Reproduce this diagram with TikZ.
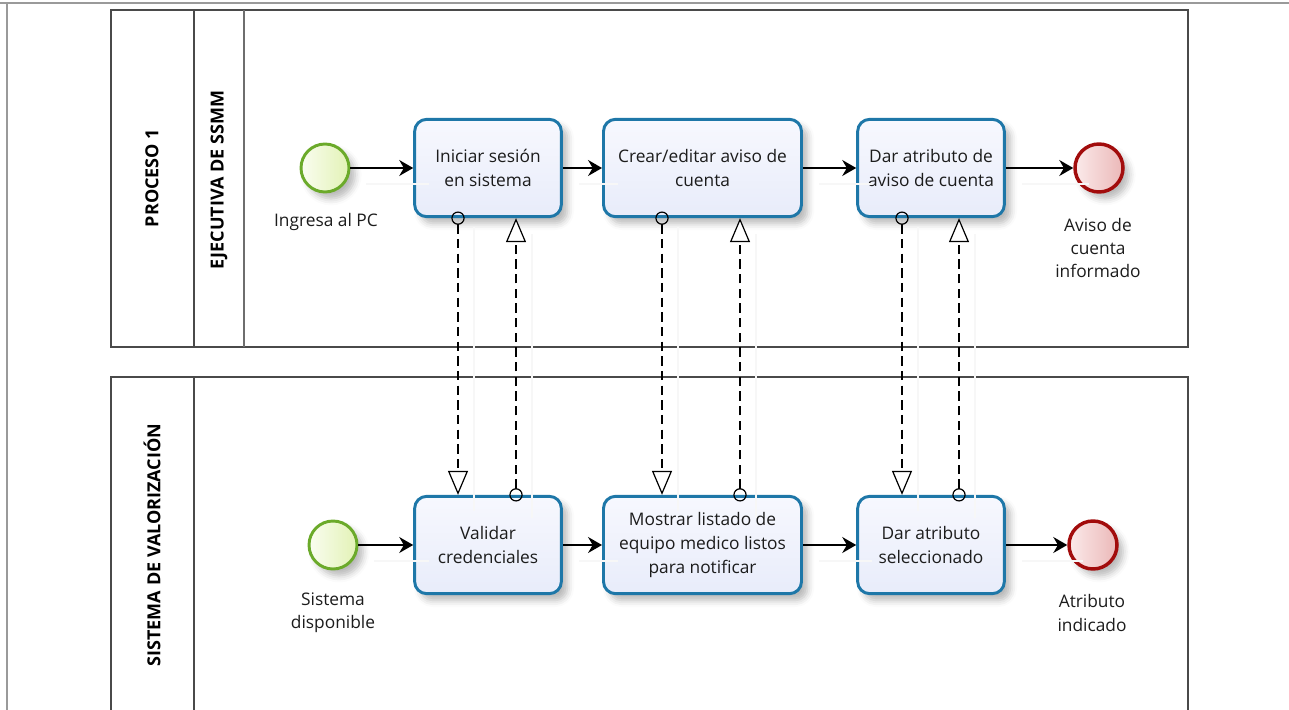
\documentclass[tikz,border=0pt]{standalone}
\usepackage{fontspec}
\setmainfont{Open Sans}
\usetikzlibrary{arrows.meta,calc,shadows.blur}

\definecolor{taskblue}{HTML}{1E77A8}
\definecolor{taskfillA}{HTML}{F7F8FE}
\definecolor{taskfillB}{HTML}{E8ECFA}
\definecolor{startline}{HTML}{6BAA2A}
\definecolor{startfillA}{HTML}{FAFDF0}
\definecolor{startfillB}{HTML}{E2F2B5}
\definecolor{endline}{HTML}{A20C0C}
\definecolor{endfillA}{HTML}{FBEAEA}
\definecolor{endfillB}{HTML}{EBB8B8}
\definecolor{poolline}{HTML}{4A4A4A}
\definecolor{framegray}{HTML}{9A9A9A}
\definecolor{txt}{HTML}{1C1C1C}

\begin{document}
\begin{tikzpicture}[x=0.75pt,y=-0.75pt,
  every node/.style={text=txt},
  pool/.style={draw=poolline, line width=1.4pt},
  lanesep/.style={draw=poolline!80, line width=1.1pt},
  poollabel/.style={font=\fontsize{13.5}{15}\selectfont\bfseries, rotate=90, text=black},
  softshadow/.style={blur shadow={shadow xshift=4.5pt, shadow yshift=-5pt, shadow blur radius=5pt, shadow opacity=28}},
  task/.style={draw=taskblue, line width=2.2pt, rounded corners=9pt,
    top color=taskfillA, bottom color=taskfillB, softshadow,
    minimum height=73pt, align=center,
    font=\fontsize{13}{18}\selectfont},
  startev/.style={circle, draw=startline, line width=2.2pt, minimum size=36pt,
    left color=startfillA, right color=startfillB, softshadow, inner sep=0pt},
  endev/.style={circle, draw=endline, line width=2.6pt, minimum size=36pt,
    left color=endfillA, right color=endfillB, softshadow, inner sep=0pt},
  evlabel/.style={align=center, font=\fontsize{13}{17.5}\selectfont},
  connshadow/.style={preaction={draw=black!3, solid, -, line width=1pt,
    transform canvas={shift={(12pt,-12pt)}}}},
  seq/.style={draw=black, line width=1.1pt, connshadow,
    -{Stealth[length=10.5pt, width=12pt, inset=3.5pt]}},
  msg/.style={draw=black, line width=1.1pt, connshadow,
    dash pattern=on 7pt off 4pt,
    {Circle[open, length=10pt, line width=0.9pt]}-{Triangle[fill=white, length=18pt, width=15pt, line width=0.9pt]},
    shorten <=-5pt}
]
\useasboundingbox (0,0) rectangle (1289,710);
\clip (0,0) rectangle (1289,710);

% page frame
\draw[framegray, line width=1.3pt] (0,3) -- (1289,3);
\draw[framegray, line width=1.5pt] (6.5,3) -- (6.5,712);

% upper pool with its lane
\draw[pool] (111,10) rectangle (1188,347);
\draw[pool] (194,10) -- (194,347);
\draw[lanesep] (244,10) -- (244,347);
\node[poollabel] (pl1) at (152,178) {PROCESO 1};
\node[poollabel] (ll1) at (219,180) {EJECUTIVA DE SSMM};

% lower pool
\draw[pool] (111,377) rectangle (1188,716);
\draw[pool] (194,377) -- (194,716);
\node[poollabel] (pl2) at (152,545) {SISTEMA DE VALORIZACIÓN};

% upper flow
\node[startev] (s1) at (325,168) {};
\node[evlabel] (s1l) at (326,222) {Ingresa al PC};
\node[task, minimum width=110pt] (t1) at (488,168) {Iniciar sesión\\en sistema};
\node[task, minimum width=148.5pt] (t2) at (702.5,168) {Crear/editar aviso de\\cuenta};
\node[task, minimum width=110pt] (t3) at (931,168) {Dar atributo de\\aviso de cuenta};
\node[endev] (e1) at (1099,168) {};
\node[evlabel] (e1l) at (1098,248) {Aviso de\\cuenta\\informado};

% lower flow
\node[startev] (s2) at (333,545) {};
\node[evlabel] (s2l) at (333,613) {Sistema\\disponible};
\node[task, minimum width=110pt] (t4) at (488,545) {Validar\\credenciales};
\node[task, minimum width=148.5pt] (t5) at (702.5,545) {Mostrar listado de\\equipo medico listos\\para notificar};
\node[task, minimum width=110pt] (t6) at (931,545) {Dar atributo\\seleccionado};
\node[endev] (e2) at (1093,545) {};
\node[evlabel] (e2l) at (1092,613) {Atributo\\indicado};

% sequence flows
\draw[seq] (s1) -- (t1);
\draw[seq] (t1) -- (t2);
\draw[seq] (t2) -- (t3);
\draw[seq] (t3) -- (e1);
\draw[seq] (s2) -- (t4);
\draw[seq] (t4) -- (t5);
\draw[seq] (t5) -- (t6);
\draw[seq] (t6) -- (e2);

% message flows between the pools
\draw[msg] ($(t1.south)+(-30,0)$) -- ($(t4.north)+(-30,0)$);
\draw[msg] ($(t4.north)+(28,0)$) -- ($(t1.south)+(28,0)$);
\draw[msg] ($(t2.south)+(-40.5,0)$) -- ($(t5.north)+(-40.5,0)$);
\draw[msg] ($(t5.north)+(37.5,0)$) -- ($(t2.south)+(37.5,0)$);
\draw[msg] ($(t3.south)+(-29,0)$) -- ($(t6.north)+(-29,0)$);
\draw[msg] ($(t6.north)+(28,0)$) -- ($(t3.south)+(28,0)$);
\end{tikzpicture}
\end{document}
